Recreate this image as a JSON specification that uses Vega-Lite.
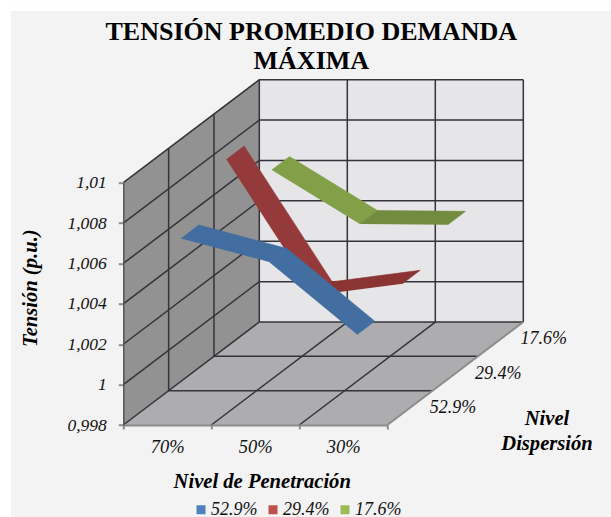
{
"$schema":"https://vega.github.io/schema/vega-lite/v6.json",
"width":264,"height":242.3,
"autosize":{"type":"none"},
"padding":{"left":123.3,"top":182.7,"right":223.7,"bottom":92},
"background":"#f3f3f3",
"config":{"view":{"stroke":null},"font":"Liberation Serif"},
"title":{"text":["TENSIÓN PROMEDIO DEMANDA","MÁXIMA"],"font":"Liberation Serif","fontSize":26,"fontWeight":"bold","color":"#000000","anchor":"middle","dx":56,"offset":-74,"lineHeight":29},
"datasets":{
"series":[{"serie":"17.6%"},{"serie":"29.4%"},{"serie":"52.9%"}],
"valores":[
{"serie":"17.6%","penetracion":"70%","tension":1.00671},
{"serie":"17.6%","penetracion":"50%","tension":1.00404},
{"serie":"17.6%","penetracion":"30%","tension":1.0040},
{"serie":"29.4%","penetracion":"50%","tension":1.00221},
{"serie":"29.4%","penetracion":"30%","tension":1.00278},
{"serie":"29.4%","penetracion":"70%","tension":1.00893},
{"serie":"52.9%","penetracion":"70%","tension":1.00672},
{"serie":"52.9%","penetracion":"50%","tension":1.00556},
{"serie":"52.9%","penetracion":"30%","tension":1.00196}
],
"paredes":[
{"pieza":"fondo","n":0,"p":0,"z":1,"t":0.998},{"pieza":"fondo","n":1,"p":3,"z":1,"t":0.998},{"pieza":"fondo","n":2,"p":3,"z":1,"t":1.01},{"pieza":"fondo","n":3,"p":0,"z":1,"t":1.01},
{"pieza":"lateral","n":0,"p":0,"z":0,"t":0.998},{"pieza":"lateral","n":1,"p":0,"z":1,"t":0.998},{"pieza":"lateral","n":2,"p":0,"z":1,"t":1.01},{"pieza":"lateral","n":3,"p":0,"z":0,"t":1.01},
{"pieza":"suelo","n":0,"p":0,"z":0,"t":0.998},{"pieza":"suelo","n":1,"p":3,"z":0,"t":0.998},{"pieza":"suelo","n":2,"p":3,"z":1,"t":0.998},{"pieza":"suelo","n":3,"p":0,"z":1,"t":0.998}
],
"rejilla":[
{"linea":"h0","n":0,"p":0,"z":0,"t":0.998},{"linea":"h0","n":1,"p":0,"z":1,"t":0.998},{"linea":"h0","n":2,"p":3,"z":1,"t":0.998},
{"linea":"h1","n":0,"p":0,"z":0,"t":1.0},{"linea":"h1","n":1,"p":0,"z":1,"t":1.0},{"linea":"h1","n":2,"p":3,"z":1,"t":1.0},
{"linea":"h2","n":0,"p":0,"z":0,"t":1.002},{"linea":"h2","n":1,"p":0,"z":1,"t":1.002},{"linea":"h2","n":2,"p":3,"z":1,"t":1.002},
{"linea":"h3","n":0,"p":0,"z":0,"t":1.004},{"linea":"h3","n":1,"p":0,"z":1,"t":1.004},{"linea":"h3","n":2,"p":3,"z":1,"t":1.004},
{"linea":"h4","n":0,"p":0,"z":0,"t":1.006},{"linea":"h4","n":1,"p":0,"z":1,"t":1.006},{"linea":"h4","n":2,"p":3,"z":1,"t":1.006},
{"linea":"h5","n":0,"p":0,"z":0,"t":1.008},{"linea":"h5","n":1,"p":0,"z":1,"t":1.008},{"linea":"h5","n":2,"p":3,"z":1,"t":1.008},
{"linea":"h6","n":0,"p":0,"z":0,"t":1.01},{"linea":"h6","n":1,"p":0,"z":1,"t":1.01},{"linea":"h6","n":2,"p":3,"z":1,"t":1.01},
{"linea":"z1","n":0,"p":0,"z":0.3333,"t":1.01},{"linea":"z1","n":1,"p":0,"z":0.3333,"t":0.998},{"linea":"z1","n":2,"p":3,"z":0.3333,"t":0.998},
{"linea":"z2","n":0,"p":0,"z":0.6667,"t":1.01},{"linea":"z2","n":1,"p":0,"z":0.6667,"t":0.998},{"linea":"z2","n":2,"p":3,"z":0.6667,"t":0.998},
{"linea":"c0","n":0,"p":0,"z":1,"t":1.01},{"linea":"c0","n":1,"p":0,"z":1,"t":0.998},
{"linea":"c1","n":0,"p":1,"z":1,"t":1.01},{"linea":"c1","n":1,"p":1,"z":1,"t":0.998},{"linea":"c1","n":2,"p":1,"z":0,"t":0.998},
{"linea":"c2","n":0,"p":2,"z":1,"t":1.01},{"linea":"c2","n":1,"p":2,"z":1,"t":0.998},{"linea":"c2","n":2,"p":2,"z":0,"t":0.998},
{"linea":"c3","n":0,"p":3,"z":1,"t":1.01},{"linea":"c3","n":1,"p":3,"z":1,"t":0.998}
],
"borde":[{"linea":"b","n":0,"p":3,"z":0,"t":0.998},{"linea":"b","n":1,"p":3,"z":1,"t":0.998}],
"margen":[{"sx":-1.401,"sx2":-1.276,"sy":0.99344,"sy2":1.01904},{"sx":-1.401,"sx2":5.542,"sy":1.0185,"sy2":1.01904}],
"notas":[{"texto":"Nivel\nDispersión","p":4.815,"z":0,"t":0.998295}]
},
"encoding":{
"x":{"field":"sx","type":"quantitative","scale":{"domain":[0,3],"nice":false,"zero":false},
"axis":{"values":[0,1,2,3],"labelExpr":"['70%','50%','30%',''][datum.value]","labelOffset":44,"labelAngle":0,"labelFont":"Liberation Serif","labelFontStyle":"italic","labelFontSize":18.5,"labelColor":"#111111","labelPadding":17,"labelBaseline":"middle","labelFlush":false,"grid":false,"zindex":1,"tickColor":"#8c8c8c","tickWidth":2,"tickSize":4,"domainColor":"#8c8c8c","domainWidth":2,
"title":"Nivel de Penetración","titleFont":"Liberation Serif","titleFontStyle":"italic","titleFontWeight":"bold","titleFontSize":20.6,"titleColor":"#000000","titleX":138.4,"titleY":56,"titleAlign":"center","titleBaseline":"middle"}},
"y":{"field":"sy","type":"quantitative","scale":{"domain":[0.998,1.01],"nice":false,"zero":false},
"axis":{"values":[0.998,1,1.002,1.004,1.006,1.008,1.01],"labelExpr":"replace(format(datum.value,'.4~f'),'.',',')","labelFont":"Liberation Serif","labelFontStyle":"italic","labelFontSize":17.5,"labelColor":"#111111","labelPadding":12,"grid":false,"zindex":1,"tickColor":"#8c8c8c","tickWidth":2,"tickSize":5,"domainColor":"#55555c","domainWidth":1.5,
"title":"Tensión (p.u.)","titleFont":"Liberation Serif","titleFontStyle":"italic","titleFontWeight":"bold","titleFontSize":20.6,"titleColor":"#000000","titleAngle":-90,"titleX":-93,"titleY":105,"titleAlign":"center","titleBaseline":"middle"}}
},
"layer":[
{"data":{"name":"margen"},"mark":{"type":"rect","color":"#ffffff"},"encoding":{"x2":{"field":"sx2"},"y2":{"field":"sy2"}}},
{"data":{"name":"paredes"},
"transform":[{"calculate":"datum.p+datum.z*1.5455","as":"sx"},{"calculate":"datum.t+datum.z*0.0051","as":"sy"}],
"mark":{"type":"line","strokeWidth":0,"clip":false},
"encoding":{"order":{"field":"n"},"fill":{"field":"pieza","type":"nominal","legend":null,"scale":{"domain":["fondo","lateral","suelo","17.6% 0","17.6% 1","29.4% 0","29.4% 1","52.9% 0","52.9% 1"],"range":["#e6e6e8","#929292","#adadaf","#82a047","#728c3f","#953a3a","#8a3534","#416da1","#426ea2"]}}}},
{"data":{"name":"rejilla"},
"transform":[{"calculate":"datum.p+datum.z*1.5455","as":"sx"},{"calculate":"datum.t+datum.z*0.0051","as":"sy"}],
"mark":{"type":"line","color":"#33333b","strokeWidth":1.5},
"encoding":{"order":{"field":"n"},"detail":{"field":"linea"}}},
{"data":{"name":"borde"},
"transform":[{"calculate":"datum.p+datum.z*1.5455","as":"sx"},{"calculate":"datum.t+datum.z*0.0051","as":"sy"}],
"mark":{"type":"line","color":"#8c8c8c","strokeWidth":2},
"encoding":{"order":{"field":"n"}}},
{"data":{"name":"valores"},
"transform":[
{"calculate":"indexof(['70%','50%','30%'],datum.penetracion)","as":"i"},
{"calculate":"indexof(['52.9%','29.4%','17.6%'],datum.serie)","as":"d"},
{"window":[{"op":"lead","field":"tension","as":"sig"}],"groupby":["serie"],"sort":[{"field":"i","order":"ascending"}]},
{"filter":"isValid(datum.sig)"},
{"calculate":"[0,1,2,3]","as":"v"},{"flatten":["v"]},
{"calculate":"datum.i+0.5+(datum.v>=2?1:0)","as":"p"},
{"calculate":"(datum.d+0.5+((datum.v==1||datum.v==2)?0.195:-0.195))/3","as":"z"},
{"calculate":"datum.v<2?datum.tension:datum.sig","as":"t"},
{"calculate":"datum.p+datum.z*1.5455","as":"sx"},{"calculate":"datum.t+datum.z*0.0051","as":"sy"},
{"calculate":"datum.serie+' '+datum.i","as":"tramo"}
],
"mark":{"type":"line","strokeWidth":0.6},
"encoding":{"order":{"field":"v"},
"stroke":{"field":"tramo","type":"nominal","legend":null,"scale":{"domain":["17.6% 0","17.6% 1","29.4% 0","29.4% 1","52.9% 0","52.9% 1"],"range":["#82a047","#728c3f","#953a3a","#8a3534","#416da1","#426ea2"]}},
"fill":{"field":"tramo","type":"nominal","legend":null,"scale":{"domain":["fondo","lateral","suelo","17.6% 0","17.6% 1","29.4% 0","29.4% 1","52.9% 0","52.9% 1"],"range":["#e6e6e8","#929292","#adadaf","#82a047","#728c3f","#953a3a","#8a3534","#416da1","#426ea2"]}}}},
{"data":{"name":"series"},
"transform":[{"calculate":"indexof(['52.9%','29.4%','17.6%'],datum.serie)","as":"d"},{"calculate":"3+(datum.d+0.5)/3*1.5455","as":"sx"},{"calculate":"0.998+(datum.d+0.5)/3*0.0051","as":"sy"}],
"mark":{"type":"text","font":"Liberation Serif","fontStyle":"italic","fontSize":18,"color":"#111111","dx":43,"align":"center","baseline":"middle"},
"encoding":{"text":{"field":"serie"}}},
{"data":{"name":"notas"},
"transform":[{"calculate":"datum.p+datum.z*1.5455","as":"sx"},{"calculate":"datum.t+datum.z*0.0051","as":"sy"}],
"mark":{"type":"text","font":"Liberation Serif","fontStyle":"italic","fontWeight":"bold","fontSize":20.6,"color":"#000000","align":"center","baseline":"middle","lineBreak":"\n","lineHeight":25},
"encoding":{"text":{"field":"texto"}}},
{"data":{"name":"series"},
"transform":[{"filter":"false"}],
"mark":{"type":"square"},
"encoding":{"color":{"field":"serie","type":"nominal","scale":{"domain":["52.9%","29.4%","17.6%"],"range":["#4f81bd","#c0504d","#9bbb59"]},
"legend":{"title":null,"orient":"none","direction":"horizontal","legendX":68.7,"legendY":318,"columns":3,"columnPadding":6,"symbolType":"square","symbolSize":81,"symbolStrokeWidth":0,"symbolOpacity":1,"labelFont":"Liberation Serif","labelFontStyle":"italic","labelFontSize":18,"labelColor":"#111111","labelOffset":1,"labelLimit":200,"padding":0,"clipHeight":18}}}}
]
}
